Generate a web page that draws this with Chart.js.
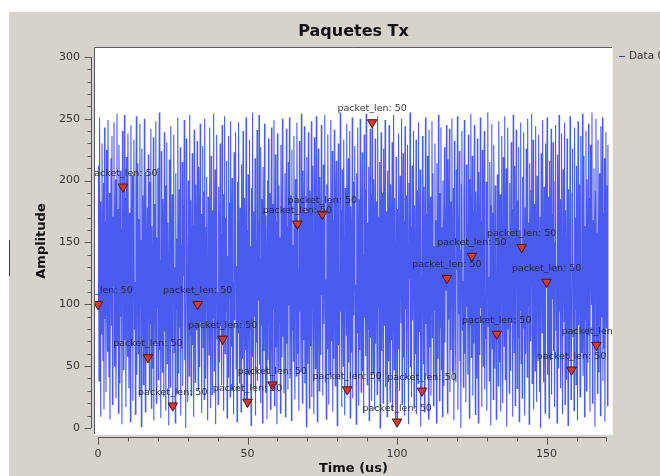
<!DOCTYPE html>
<html>
<head>
<meta charset="utf-8">
<script src="https://cdn.jsdelivr.net/npm/chart.js@4"></script>
<style>
  body { margin: 0; background: #fff; }
  canvas { display: block; }
</style>
</head>
<body>
<canvas id="txChart" width="660" height="476"></canvas>
<script>
// samples of the "Data 0" trace, 6 samples per microsecond
const samples = [
  100, 212, 38, 251, 147, 9, 183, 76, 230, 121, 54, 198, 15, 243, 88, 167, 29, 225, 133, 62,
  249, 104, 41, 190, 7, 156, 218, 83, 236, 19, 171, 115, 247, 50, 139, 201, 24, 94, 254, 68,
  177, 12, 229, 142, 36, 208, 90, 161, 3, 240,
  195, 47, 126, 253, 71, 186, 17, 219, 109, 58, 238, 150, 32, 174, 95, 5, 245, 131, 66, 204,
  22, 160, 233, 80, 118, 11, 192, 252, 43, 137, 214, 60, 169, 27, 246, 99, 152, 1, 226, 73,
  188, 35, 140, 250, 86, 13, 207, 124, 57, 178,
  57, 221, 145, 30, 199, 84, 242, 16, 163, 112, 48, 235, 6, 181, 129, 69, 248, 20, 154, 97,
  210, 39, 176, 255, 63, 136, 8, 224, 102, 45, 185, 159, 25, 239, 78, 196, 14, 127, 231, 52,
  166, 92, 2, 217, 141, 33, 244, 107, 70, 189,
  18, 172, 237, 61, 130, 4, 206, 96, 153, 28, 251, 116, 44, 193, 81, 227, 10, 148, 64, 215,
  34, 180, 123, 249, 55, 101, 0, 234, 158, 87, 21, 200, 138, 42, 253, 75, 184, 26, 119, 222,
  67, 164, 9, 241, 106, 37, 197, 144, 79, 232,
  100, 31, 211, 155, 49, 246, 85, 173, 12, 135, 228, 65, 191, 23, 250, 113, 40, 162, 203, 74,
  6, 187, 132, 59, 243, 98, 16, 220, 149, 27, 176, 89, 254, 46, 125, 209, 3, 168, 237, 72,
  110, 19, 195, 143, 53, 230, 82, 157, 35, 245,
  72, 189, 14, 128, 252, 60, 170, 94, 216, 8, 139, 41, 236, 105, 182, 25, 248, 66, 151, 202,
  30, 118, 11, 223, 87, 164, 239, 48, 131, 5, 199, 77, 247, 120, 36, 178, 92, 13, 213, 146,
  56, 240, 100, 22, 186, 134, 63, 251, 17, 160,
  21, 205, 112, 43, 233, 80, 147, 2, 194, 58, 255, 126, 33, 175, 90, 218, 10, 152, 69, 241,
  38, 166, 103, 253, 51, 137, 20, 227, 83, 185, 4, 211, 141, 62, 246, 97, 29, 172, 124, 7,
  200, 55, 234, 115, 44, 190, 15, 158, 243, 76,
  35, 181, 96, 249, 18, 133, 221, 65, 167, 3, 238, 108, 47, 196, 85, 154, 12, 229, 121, 57,
  250, 74, 178, 28, 143, 206, 9, 117, 242, 68, 163, 31, 215, 99, 251, 40, 188, 136, 6, 225,
  79, 148, 54, 236, 114, 23, 201, 170, 42, 247,
  165, 60, 129, 14, 232, 94, 183, 45, 254, 111, 20, 208, 150, 71, 244, 36, 174, 88, 1, 219,
  127, 52, 239, 102, 16, 192, 157, 66, 248, 25, 140, 212, 82, 11, 235, 119, 48, 180, 252, 73,
  5, 161, 226, 93, 30, 203, 138, 59, 245, 107,
  173, 26, 213, 84, 146, 253, 37, 120, 7, 197, 64, 237, 155, 19, 182, 98, 43, 249, 131, 70,
  224, 13, 168, 56, 241, 110, 34, 187, 216, 81, 2, 153, 230, 67, 125, 39, 255, 94, 176, 17,
  209, 142, 50, 233, 86, 10, 194, 159, 75, 246,
  31, 162, 218, 53, 104, 240, 8, 179, 135, 61, 251, 24, 199, 91, 149, 228, 41, 116, 3, 206,
  77, 243, 132, 18, 185, 63, 250, 101, 29, 170, 223, 46, 140, 12, 237, 89, 193, 58, 254, 114,
  35, 166, 80, 211, 6, 128, 242, 73, 189, 22,
  247, 109, 44, 201, 156, 15, 234, 68, 183, 122, 27, 252, 97, 171, 38, 215, 0, 144, 239, 62,
  118, 190, 20, 226, 83, 150, 249, 33, 175, 106, 9, 208, 134, 54, 245, 92, 21, 197, 160, 71,
  231, 14, 124, 253, 47, 186, 99, 4, 219, 139,
  5, 177, 64, 238, 112, 30, 204, 151, 85, 250, 19, 132, 222, 57, 167, 10, 244, 96, 188, 40,
  143, 229, 72, 3, 198, 120, 255, 49, 163, 25, 212, 87, 137, 240, 16, 180, 60, 103, 233, 11,
  192, 154, 36, 247, 78, 125, 209, 1, 170, 66,
  30, 236, 145, 52, 195, 13, 117, 251, 84, 173, 42, 220, 100, 7, 241, 159, 65, 187, 26, 130,
  248, 73, 206, 18, 147, 95, 230, 39, 168, 4, 214, 115, 56, 253, 136, 22, 190, 81, 243, 47,
  162, 9, 200, 126, 34, 227, 69, 178, 111, 245,
  121, 12, 217, 88, 160, 242, 29, 183, 63, 138, 250, 45, 106, 194, 6, 232, 154, 75, 37, 209,
  128, 252, 15, 171, 92, 224, 54, 144, 0, 197, 240, 79, 119, 33, 186, 249, 60, 150, 21, 213,
  98, 165, 43, 237, 134, 8, 201, 83, 254, 57,
  139, 220, 26, 176, 68, 245, 113, 11, 191, 152, 40, 234, 87, 4, 207, 131, 59, 251, 97, 167,
  17, 225, 143, 50, 188, 240, 31, 109, 72, 199, 14, 158, 255, 82, 122, 38, 215, 180, 2, 133,
  246, 64, 174, 23, 229, 101, 48, 196, 148, 7,
  76, 205, 122, 34, 248, 162, 53, 189, 13, 142, 236, 91, 20, 219, 110, 66, 252, 39, 169, 210,
  1, 127, 243, 80, 155, 28, 198, 116, 46, 231, 85, 177, 9, 253, 136, 61, 212, 18, 104, 241,
  149, 32, 184, 73, 227, 5, 160, 95, 247, 52,
  146, 24, 203, 81, 239, 120, 10, 178, 60, 226, 137, 41, 250, 99, 166, 3, 214, 153, 70, 192,
  254, 36, 118, 233, 15, 181, 89, 46, 244, 128, 21, 204, 159, 58, 237, 105, 29, 171, 0, 222,
  142, 77, 249, 113, 37, 195, 84, 12, 230, 164,
  118, 251, 43, 187, 92, 8, 216, 139, 55, 242, 27, 173, 104, 231, 62, 150, 17, 199, 245, 79,
  131, 4, 221, 167, 48, 253, 94, 185, 32, 123, 238, 69, 11, 209, 146, 86, 247, 19, 176, 111,
  39, 234, 157, 2, 193, 101, 56, 252, 134, 23,
  47, 190, 226, 74, 129, 14, 243, 96, 170, 35, 212, 152, 6, 248, 83, 117, 197, 25, 236, 141,
  61, 179, 254, 42, 108, 220, 9, 163, 88, 240, 30, 201, 125, 53, 246, 75, 186, 13, 229, 144,
  100, 255, 20, 168, 67, 210, 137, 1, 191, 250,
  67, 158, 28, 233, 112, 45, 206, 182, 10, 244, 90, 133, 251, 38, 174, 64, 218, 5, 147, 239,
  81, 196, 18, 229
];
const sampleRate = 6; // samples per us
const tagIndex = [0, 50, 100, 150, 200, 250, 300, 350, 400, 450, 500, 550, 600, 650, 700,
  750, 800, 850, 900, 950, 1000];
const tagText = "packet_len: 50";
const xTicks = [0, 50, 100, 150];
const yTicks = [0, 50, 100, 150, 200, 250, 300];

const lineData = samples.map((v, i) => ({ x: i / sampleRate, y: v }));
const tagData = tagIndex.map(i => ({ x: i / sampleRate, y: samples[i] }));

const frame = {
  id: "frame",
  beforeDraw(chart) {
    const ctx = chart.ctx, a = chart.chartArea;
    ctx.save();
    ctx.fillStyle = "#fff";
    ctx.fillRect(0, 0, 660, 476);
    ctx.fillStyle = "#d6d3cd";
    ctx.fillRect(9, 12, 651, 464);
    ctx.fillStyle = "#fff";
    ctx.fillRect(a.left, a.top, a.right - a.left, a.bottom - a.top);
    ctx.strokeStyle = "#444";
    ctx.lineWidth = 1;
    ctx.beginPath();
    ctx.moveTo(9.5, 240); ctx.lineTo(9.5, 276);
    ctx.stroke();
    ctx.restore();
  },
  afterDraw(chart) {
    const ctx = chart.ctx, a = chart.chartArea;
    const xs = chart.scales.x, ys = chart.scales.y;
    ctx.save();
    ctx.lineWidth = 1;
    // sunken frame
    ctx.strokeStyle = "#5a5a5a";
    ctx.beginPath();
    ctx.moveTo(a.left + 0.5, a.bottom); ctx.lineTo(a.left + 0.5, a.top + 0.5); ctx.lineTo(a.right, a.top + 0.5);
    ctx.stroke();
    ctx.strokeStyle = "#f4f4f4";
    ctx.beginPath();
    ctx.moveTo(a.right - 0.5, a.top); ctx.lineTo(a.right - 0.5, a.bottom - 0.5); ctx.lineTo(a.left, a.bottom - 0.5);
    ctx.stroke();
    // axes backbones and ticks
    ctx.strokeStyle = "#555";
    const yb = a.left - 2.5;
    ctx.beginPath();
    ctx.moveTo(yb, ys.getPixelForValue(0)); ctx.lineTo(yb, ys.getPixelForValue(300));
    for (let v = 0; v <= 300; v += 10) {
      const p = Math.round(ys.getPixelForValue(v)) + 0.5;
      ctx.moveTo(yb, p); ctx.lineTo(yb - (v % 50 === 0 ? 7 : 4), p);
    }
    const xb = a.bottom + 2.5;
    ctx.moveTo(xs.getPixelForValue(0), xb); ctx.lineTo(xs.getPixelForValue(170), xb);
    for (let v = 0; v <= 170; v += 10) {
      const p = Math.round(xs.getPixelForValue(v)) + 0.5;
      ctx.moveTo(p, xb); ctx.lineTo(p, xb + (v % 50 === 0 ? 7 : 4));
    }
    ctx.stroke();
    // legend
    ctx.strokeStyle = "#2a3de8";
    ctx.beginPath();
    ctx.moveTo(619, 56.5); ctx.lineTo(625, 56.5);
    ctx.stroke();
    ctx.fillStyle = "#333";
    ctx.font = "10.5px 'DejaVu Sans'";
    ctx.textBaseline = "middle";
    ctx.fillText("Data 0", 629, 56);
    // title
    ctx.font = "bold 16px 'DejaVu Sans'";
    ctx.textAlign = "center";
    ctx.fillStyle = "#111";
    ctx.fillText("Paquetes Tx", (a.left + a.right) / 2, 32);
    ctx.restore();
  },
  afterDatasetsDraw(chart) {
    const ctx = chart.ctx, a = chart.chartArea;
    const meta = chart.getDatasetMeta(1);
    ctx.save();
    ctx.beginPath();
    ctx.rect(a.left, a.top, a.right - a.left, a.bottom - a.top);
    ctx.clip();
    ctx.font = "9.5px 'DejaVu Sans'";
    ctx.textAlign = "center";
    ctx.fillStyle = "rgba(35,35,45,0.9)";
    meta.data.forEach(pt => {
      ctx.fillText(tagText, pt.x, pt.y - 11);
    });
    ctx.restore();
  }
};

new Chart(document.getElementById("txChart"), {
  type: "line",
  data: {
    datasets: [
      {
        label: "Data 0",
        data: lineData,
        order: 2,
        borderColor: "rgba(30,50,235,0.8)",
        borderWidth: 1.1,
        pointRadius: 0,
        tension: 0
      },
      {
        label: "tags",
        data: tagData,
        order: 1,
        showLine: false,
        pointStyle: "triangle",
        rotation: 180,
        pointRadius: 5.5,
        backgroundColor: "#d8392b",
        borderColor: "#4a1410",
        borderWidth: 1
      }
    ]
  },
  options: {
    responsive: false,
    animation: false,
    layout: { padding: { top: 47, right: 47, left: 0, bottom: 0 } },
    plugins: { legend: { display: false }, tooltip: { enabled: false } },
    scales: {
      x: {
        type: "linear",
        min: -1.34,
        max: 172.2,
        afterFit(s) { s.height = 41; },
        afterBuildTicks(s) { s.ticks = xTicks.map(v => ({ value: v })); },
        grid: { display: false, drawTicks: false },
        border: { display: false },
        ticks: { padding: 13, color: "#333", font: { family: "DejaVu Sans", size: 11 }, maxRotation: 0 },
        title: { display: true, text: "Time (us)", color: "#111", padding: { top: 3, bottom: 0 },
          font: { family: "DejaVu Sans", size: 13, weight: "bold" } }
      },
      y: {
        min: -5.7,
        max: 308,
        afterFit(s) { s.width = 94; },
        afterBuildTicks(s) { s.ticks = yTicks.map(v => ({ value: v })); },
        grid: { display: false, drawTicks: false },
        border: { display: false },
        ticks: { padding: 14, color: "#333", font: { family: "DejaVu Sans", size: 11 } },
        title: { display: true, text: "Amplitude", color: "#111", padding: { top: 34, bottom: 0 },
          font: { family: "DejaVu Sans", size: 13, weight: "bold" } }
      }
    }
  },
  plugins: [frame]
});
</script>
</body>
</html>
